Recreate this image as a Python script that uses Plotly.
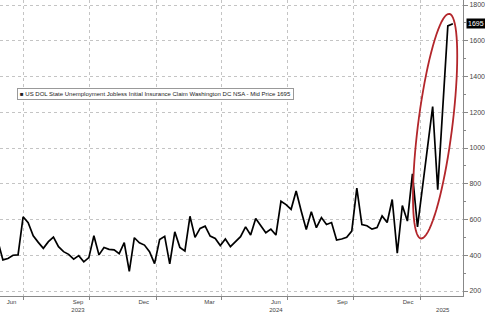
import numpy as np
import plotly.graph_objects as go

dates = [
    "2023-05-27", "2023-06-03", "2023-06-10", "2023-06-17", "2023-06-24",
    "2023-07-01", "2023-07-08", "2023-07-15", "2023-07-22", "2023-07-29",
    "2023-08-05", "2023-08-12", "2023-08-19", "2023-08-26", "2023-09-02",
    "2023-09-09", "2023-09-16", "2023-09-23", "2023-09-30", "2023-10-07",
    "2023-10-14", "2023-10-21", "2023-10-28", "2023-11-04", "2023-11-11",
    "2023-11-18", "2023-11-25", "2023-12-02", "2023-12-09", "2023-12-16",
    "2023-12-23", "2023-12-30", "2024-01-06", "2024-01-13", "2024-01-20",
    "2024-01-27", "2024-02-03", "2024-02-10", "2024-02-17", "2024-02-24",
    "2024-03-02", "2024-03-09", "2024-03-16", "2024-03-23", "2024-03-30",
    "2024-04-06", "2024-04-13", "2024-04-20", "2024-04-27", "2024-05-04",
    "2024-05-11", "2024-05-18", "2024-05-25", "2024-06-01", "2024-06-08",
    "2024-06-15", "2024-06-22", "2024-06-29", "2024-07-06", "2024-07-13",
    "2024-07-20", "2024-07-27", "2024-08-03", "2024-08-10", "2024-08-17",
    "2024-08-24", "2024-08-31", "2024-09-07", "2024-09-14", "2024-09-21",
    "2024-09-28", "2024-10-05", "2024-10-12", "2024-10-19", "2024-10-26",
    "2024-11-02", "2024-11-09", "2024-11-16", "2024-11-23", "2024-11-30",
    "2024-12-07", "2024-12-14", "2024-12-21", "2024-12-28",
    "2025-01-18", "2025-01-25", "2025-02-08", "2025-02-15",
]
claims = [
    480, 374, 382, 400, 402,
    615, 582, 509, 472, 439,
    476, 502, 448, 420, 405,
    378, 398, 363, 387, 509,
    402, 443, 433, 430, 409,
    470, 310, 498, 470, 457,
    420, 353, 488, 506, 352,
    531, 444, 424, 618, 500,
    550, 563, 507, 494, 454,
    491, 448, 474, 504, 559,
    513, 605, 563, 526, 546,
    513, 702, 683, 657, 759,
    648, 544, 643, 554, 611,
    572, 583, 485, 491, 500,
    535, 776, 572, 565, 546,
    555, 620, 583, 712, 412,
    678, 591, 855, 559,
    1232, 767, 1683, 1695,
]

x_tick_vals = ["2023-06-15", "2023-09-15", "2023-12-15", "2024-03-15",
               "2024-06-15", "2024-09-15", "2024-12-15", "2025-02-01"]
x_tick_text = ["Jun", "Sep<br>2023", "Dec", "Mar", "Jun<br>2024", "Sep", "Dec", "<br>2025"]
y_tick_vals = [200, 400, 600, 800, 1000, 1200, 1400, 1600, 1800]
legend_text = "US DOL State Unemployment Jobless Initial Insurance Claim Washington DC NSA - Mid Price 1695"
last_value = claims[-1]

W, H = 485, 313
ML, MR, MT, MB = 0, 12, 0, 15
PW, PH = W - ML - MR, H - MT - MB

fig = go.Figure()
fig.add_trace(go.Scatter(x=dates, y=claims, mode="lines",
                         line=dict(color="#000000", width=1.7),
                         showlegend=False, hoverinfo="skip"))

grid = "#c4c4c4"
fig.update_layout(
    width=W, height=H,
    margin=dict(l=ML, r=MR, t=MT, b=MB, pad=0),
    paper_bgcolor="white", plot_bgcolor="white",
    font=dict(family="Liberation Sans, Arial, sans-serif", size=6, color="#444"),
    xaxis=dict(
        type="date", range=["2023-05-30", "2025-03-01"],
        tickmode="array", tickvals=x_tick_vals, ticktext=x_tick_text,
        ticks="", showgrid=False, showline=True, linecolor="#888", linewidth=1,
        tickfont=dict(size=6, color="#444"),
        minor=dict(dtick="M3", tick0="2023-01-01", showgrid=True, gridcolor=grid,
                   griddash="dot", gridwidth=1, ticks="outside", ticklen=3,
                   tickcolor="#888"),
        zeroline=False,
    ),
    yaxis=dict(
        side="right", range=[172, 1828],
        tickmode="array", tickvals=y_tick_vals,
        ticks="outside", ticklen=4, tickcolor="#888",
        showgrid=True, gridcolor=grid, griddash="dot", gridwidth=1,
        showline=True, linecolor="#888", linewidth=1,
        tickfont=dict(size=7, color="#444"),
        minor=dict(dtick=100, ticks="outside", ticklen=2, tickcolor="#888", showgrid=False),
        zeroline=False,
    ),
)

# legend-like box
fig.add_annotation(
    xref="paper", yref="paper", x=17 / PW, y=1 - 89 / PH,
    xanchor="left", yanchor="top", showarrow=False,
    text="<span style='font-size:6px'>■</span> " + legend_text,
    font=dict(size=6, color="#222"), bgcolor="white",
    bordercolor="#999", borderwidth=1, borderpad=2, align="left",
)

# last price tag
fig.add_annotation(
    xref="paper", yref="y", x=1, y=last_value, xanchor="left", yanchor="middle",
    xshift=3, showarrow=False, text=str(last_value),
    font=dict(size=7, color="white"), bgcolor="black", borderpad=1,
)

# red highlight ellipse (pixel geometry -> paper coords)
cx, cy, a, b, phi = 444.5, 127.0, 114.0, 17.5, np.deg2rad(7.3)
t = np.linspace(0, 2 * np.pi, 80)
ux, uy = np.sin(phi), -np.cos(phi)
vx, vy = np.cos(phi), np.sin(phi)
px = cx + a * np.cos(t) * ux + b * np.sin(t) * vx
py = cy + a * np.cos(t) * uy + b * np.sin(t) * vy
xp = px / PW
yp = 1 - py / PH
path = "M " + " L ".join(f"{x:.5f},{y:.5f}" for x, y in zip(xp, yp)) + " Z"
fig.add_shape(type="path", path=path, xref="paper", yref="paper",
              line=dict(color="#b3262b", width=1.8))

fig.write_html("out.html")
